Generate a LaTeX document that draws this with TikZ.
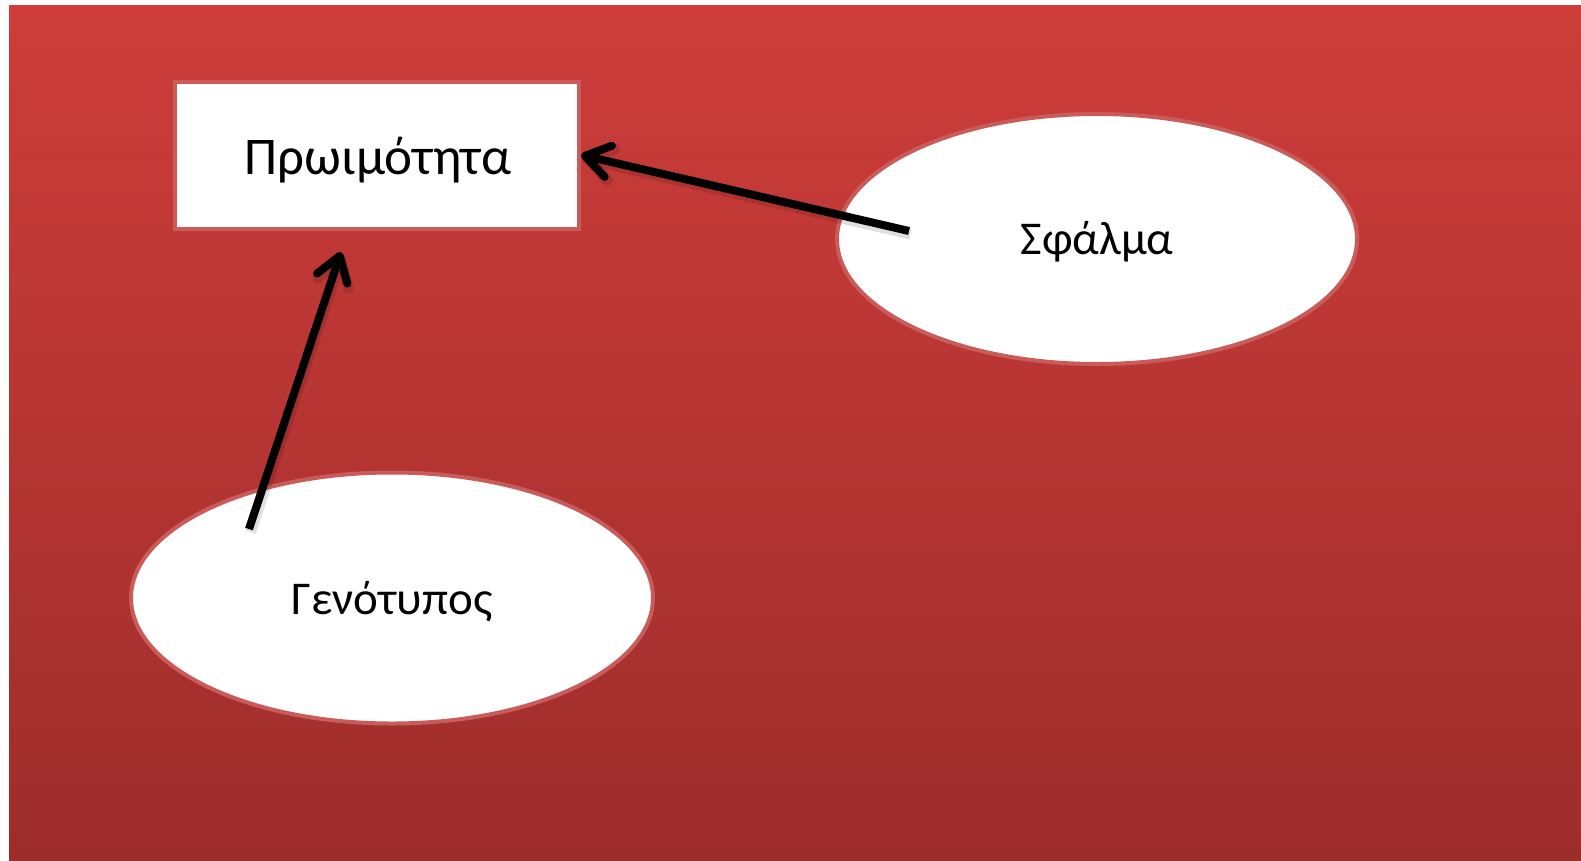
\documentclass[tikz,border=0pt]{standalone}
\usepackage{fontspec}
\setmainfont{Carlito}
\usetikzlibrary{arrows.meta,shapes.geometric}
\definecolor{bgtop}{RGB}{206,61,58}
\definecolor{bgbot}{RGB}{157,45,43}
\definecolor{rim}{RGB}{201,92,90}
\tikzset{
  shapebox/.style={draw=rim, line width=4pt, fill=white, inner sep=0pt},
  label/.style={font=\fontsize{53}{60}\selectfont, text=black},
  smalllabel/.style={font=\fontsize{47}{54}\selectfont, text=black},
  linkbase/.style={line width=8pt, -{Straight Barb[length=24pt,width=32pt,round]}},
  link/.style={linkbase, draw=black},
  linkshadow/.style={linkbase, draw=black, draw opacity=0.12, line width=11pt,
    transform canvas={shift={(1.5pt,-3pt)}}},
}
\begin{document}
\begin{tikzpicture}[x=1pt,y=-1pt]
  \useasboundingbox (0,0) rectangle (1581,860);
  \fill[white] (0,0) rectangle (1581,860);
  % red panel with vertical gradient
  \shade[top color=bgtop, bottom color=bgbot] (9,5) rectangle (1581,860);

  \node[shapebox, rectangle, minimum width=404pt, minimum height=147pt] (p) at (377,155) {};
  \node[label] at (378,160) {Πρωιμότητα};

  \node[shapebox, ellipse, minimum width=520pt, minimum height=250pt] (s) at (1097,239) {};
  \node[smalllabel] at (1097,242) {Σφάλμα};

  \node[shapebox, ellipse, minimum width=522pt, minimum height=251pt] (g) at (392,598) {};
  \node[smalllabel] at (392,602) {Γενότυπος};

  \coordinate (sfrom) at (909,231);
  \coordinate (gfrom) at (249,529);
  \coordinate (gtip) at (341,252);

  % soft shadows under the arrows
  \path[linkshadow] (sfrom) -- (p.east);
  \path[linkshadow] (gfrom) -- (gtip);
  % arrows
  \path[link] (sfrom) -- (p.east);
  \path[link] (gfrom) -- (gtip);
\end{tikzpicture}
\end{document}
